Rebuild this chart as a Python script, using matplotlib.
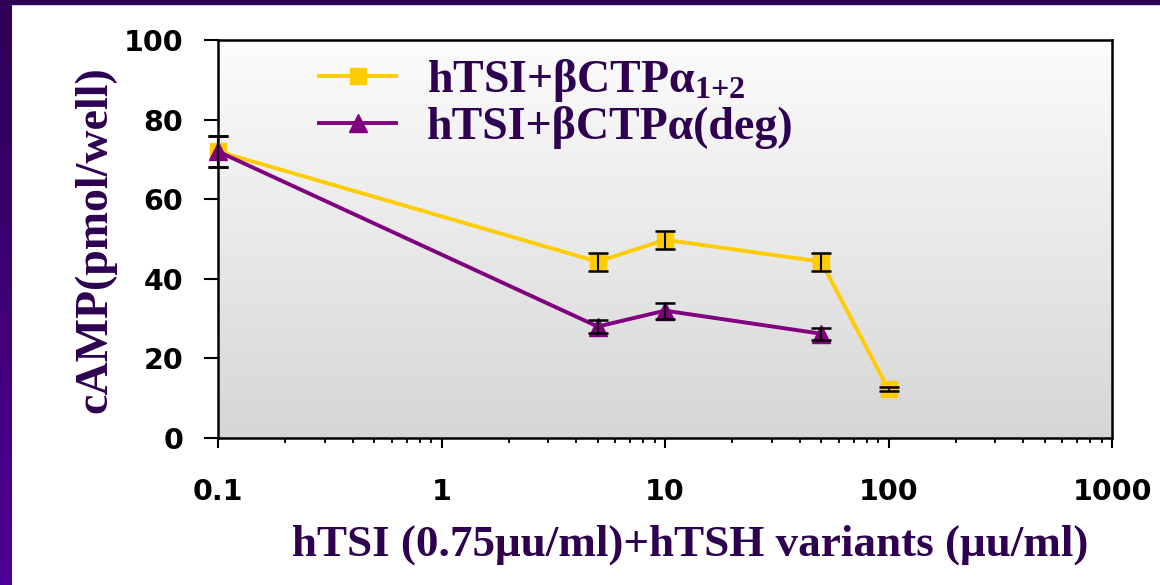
import numpy as np
import matplotlib.pyplot as plt
from matplotlib.colors import LinearSegmentedColormap
from matplotlib.ticker import LogLocator, FixedLocator, FixedFormatter, NullFormatter
from matplotlib.patches import Rectangle

# hTSI + bCTPa(1+2)
dose_12 = [0.1, 5, 10, 50, 100]
camp_12 = [72, 44.3, 49.8, 44.3, 12.2]
err_12 = [4.0, 2.3, 2.3, 2.3, 0.5]
# hTSI + bCTPa(deg)
dose_deg = [0.1, 5, 10, 50]
camp_deg = [72, 28, 32, 26.2]
err_deg = [3.8, 1.7, 2.0, 1.5]

xticks = [0.1, 1, 10, 100, 1000]
xticklabels = ['0.1', '1', '10', '100', '1000']
yticks = [0, 20, 40, 60, 80, 100]

label_12 = r'hTSI+βCTPα$_{1{+}2}$'
label_deg = 'hTSI+βCTPα(deg)'

txt_col = '#2E0050'
yellow = '#FFCC00'
purple = '#800080'

plt.rcParams['mathtext.default'] = 'regular'

W, H = 1160, 585
fig = plt.figure(figsize=(W / 100, H / 100), dpi=100)

# purple slide frame
strip = fig.add_axes([0, 0, 12 / W, 1])
strip.imshow(np.linspace(0, 1, 256).reshape(-1, 1), aspect='auto',
             cmap=LinearSegmentedColormap.from_list('s', ['#2E0055', '#4E0096']))
strip.axis('off')
fig.patches.append(Rectangle((0, 1 - 4 / H), 1, 4 / H, transform=fig.transFigure,
                             color='#2E0055', zorder=0))

rect = [218 / W, 1 - 438 / H, 894 / W, 398 / H]
bg = fig.add_axes(rect, zorder=0)
bg.imshow(np.linspace(0, 1, 256).reshape(-1, 1), aspect='auto', origin='lower',
          cmap=LinearSegmentedColormap.from_list('g', ['#D6D6D6', '#FCFCFC']))
bg.axis('off')

ax = fig.add_axes(rect, zorder=1)
ax.set_facecolor('none')

ax.plot(dose_12, camp_12, color=yellow, lw=2.8, marker='s', ms=11, mec=yellow,
        label=label_12, zorder=3, clip_on=False)
ax.plot(dose_deg, camp_deg, color=purple, lw=2.8, marker='^', ms=13, mec=purple,
        label=label_deg, zorder=3, clip_on=False)
for x, y, e in [(dose_12, camp_12, err_12), (dose_deg, camp_deg, err_deg)]:
    eb = ax.errorbar(x, y, yerr=e, fmt='none', ecolor='black', elinewidth=1.5,
                     capsize=7.5, capthick=1.8, zorder=4)
    for a in eb.get_children():
        a.set_clip_on(False)

ax.set_xscale('log')
ax.set_xlim(0.1, 1000)
ax.set_ylim(0, 100)
ax.xaxis.set_major_locator(FixedLocator(xticks))
ax.xaxis.set_major_formatter(FixedFormatter(xticklabels))
ax.xaxis.set_minor_locator(LogLocator(base=10, subs=np.arange(2, 10)))
ax.xaxis.set_minor_formatter(NullFormatter())
ax.set_yticks(yticks)

for s in ax.spines.values():
    s.set_linewidth(1.8)
    s.set_color('black')

ax.tick_params(axis='y', which='major', direction='out', length=10, width=1.5, pad=15)
ax.tick_params(axis='x', which='major', direction='out', length=7, width=1.5, pad=22)
ax.tick_params(axis='x', which='minor', direction='out', length=3.5, width=1.3)
for t in ax.get_xticklabels() + ax.get_yticklabels():
    t.set_fontfamily('DejaVu Sans')
    t.set_fontweight('bold')
    t.set_fontsize(20.5)

fig.text(95 / W, 1 - 240 / H, 'cAMP(pmol/well)', rotation=90, ha='center', va='center',
         fontsize=33, fontweight='bold', family='Liberation Serif', color=txt_col)
fig.text(690 / W, 1 - 545 / H, 'hTSI (0.75μu/ml)+hTSH variants (μu/ml)', ha='center',
         va='center', fontsize=32.5, fontweight='bold', family='Liberation Serif', color=txt_col)

leg = ax.legend(loc='upper left', bbox_to_anchor=(319 / W, 1 - 57 / H),
                bbox_transform=fig.transFigure, frameon=False, borderpad=0,
                borderaxespad=0, handlelength=1.68, handletextpad=0.68, labelspacing=0.05,
                prop={'family': 'Liberation Serif', 'weight': 'bold', 'size': 33})
for t in leg.get_texts():
    t.set_color(txt_col)

fig.savefig('out.png', dpi=100)
